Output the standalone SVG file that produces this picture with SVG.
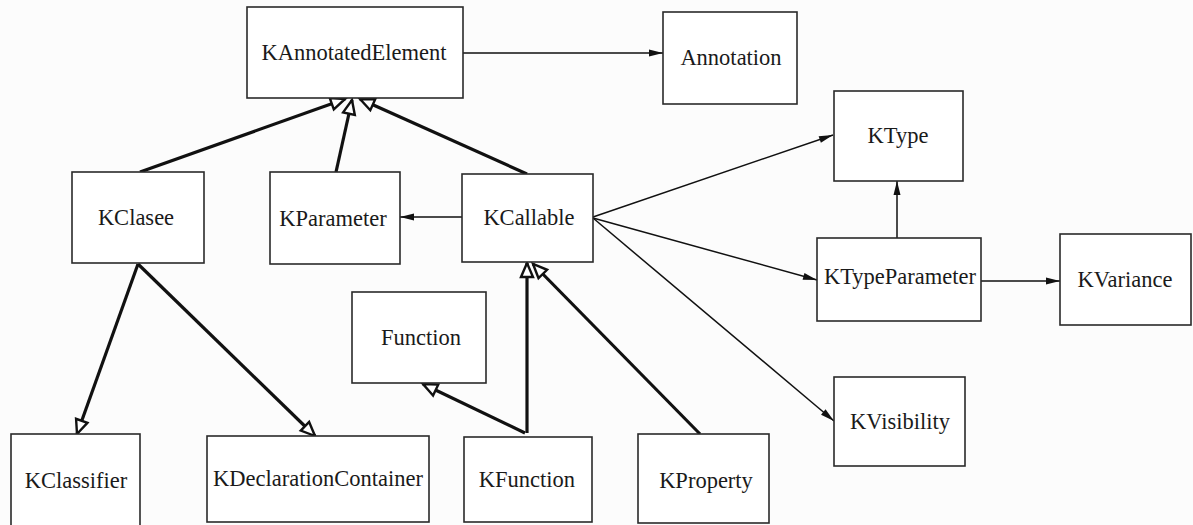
<svg xmlns="http://www.w3.org/2000/svg" width="1193" height="525" viewBox="0 0 1193 525">
<style>
.box{fill:#ffffff;stroke:#2a2a2a;stroke-width:1.6}
.lbl{font-family:"Liberation Serif","Times New Roman",serif;font-size:22.5px;fill:#1a1a1a;text-anchor:middle}
.thin{stroke:#111;stroke-width:1.5;fill:none}
.thick{stroke:#111;stroke-width:3.2;fill:none}
</style>
<defs>
<marker id="hollow" markerUnits="userSpaceOnUse" markerWidth="18" markerHeight="16" refX="15" refY="6.5" orient="auto" overflow="visible">
<path d="M1,0.5 L15,6.5 L1,12.5 z" fill="#ffffff" stroke="#111" stroke-width="2.4" stroke-linejoin="miter"/>
</marker>
<marker id="filled" markerUnits="userSpaceOnUse" markerWidth="15" markerHeight="8" refX="14" refY="3.5" orient="auto" overflow="visible">
<path d="M0,0 L14,3.5 L0,7 z" fill="#111"/>
</marker>
</defs>
<rect width="1193" height="525" fill="#fcfcfc"/>
<g id="connectors">
<path class="thin" d="M463,53 L663,53" marker-end="url(#filled)"/>
<path class="thick" d="M140,172 L345,99" marker-end="url(#hollow)"/>
<path class="thick" d="M336,172 L352,100" marker-end="url(#hollow)"/>
<path class="thick" d="M527,174 L360,99" marker-end="url(#hollow)"/>
<path class="thin" d="M462,217 L400,217" marker-end="url(#filled)"/>
<path class="thin" d="M593,217 L833,135" marker-end="url(#filled)"/>
<path class="thin" d="M593,218 L817,280" marker-end="url(#filled)"/>
<path class="thin" d="M593,218 L834,421" marker-end="url(#filled)"/>
<path class="thin" d="M897,238 L897,181" marker-end="url(#filled)"/>
<path class="thin" d="M981,281 L1060,281" marker-end="url(#filled)"/>
<path class="thick" d="M138,264 L77,434" marker-end="url(#hollow)"/>
<path class="thick" d="M138,264 L315,436" marker-end="url(#hollow)"/>
<path class="thick" d="M525,433 L423,384" marker-end="url(#hollow)"/>
<path class="thick" d="M527,433 L527,263" marker-end="url(#hollow)"/>
<path class="thick" d="M700,434 L533,264" marker-end="url(#hollow)"/>
</g>
<g id="KAnnotatedElement"><rect class="box" x="247" y="7" width="216" height="91"/><text class="lbl" x="354" y="60">KAnnotatedElement</text></g>
<g id="Annotation"><rect class="box" x="663" y="12" width="134" height="92"/><text class="lbl" x="731" y="65">Annotation</text></g>
<g id="KClasee"><rect class="box" x="72" y="172" width="132" height="91"/><text class="lbl" x="136" y="225">KClasee</text></g>
<g id="KParameter"><rect class="box" x="270" y="172" width="130" height="92"/><text class="lbl" x="333" y="226">KParameter</text></g>
<g id="KCallable"><rect class="box" x="462" y="174" width="131" height="88"/><text class="lbl" x="529" y="225">KCallable</text></g>
<g id="KType"><rect class="box" x="834" y="91" width="129" height="90"/><text class="lbl" x="898" y="143">KType</text></g>
<g id="KTypeParameter"><rect class="box" x="817" y="238" width="164" height="83"/><text class="lbl" x="900" y="284">KTypeParameter</text></g>
<g id="KVariance"><rect class="box" x="1060" y="234" width="131" height="91"/><text class="lbl" x="1125" y="287">KVariance</text></g>
<g id="KVisibility"><rect class="box" x="834" y="377" width="131" height="89"/><text class="lbl" x="900" y="429">KVisibility</text></g>
<g id="Function"><rect class="box" x="352" y="292" width="134" height="91"/><text class="lbl" x="421" y="345">Function</text></g>
<g id="KClassifier"><rect class="box" x="11" y="434" width="129" height="100"/><text class="lbl" x="76" y="488">KClassifier</text></g>
<g id="KDeclarationContainer"><rect class="box" x="207" y="436" width="222" height="86"/><text class="lbl" x="318" y="486">KDeclarationContainer</text></g>
<g id="KFunction"><rect class="box" x="464" y="437" width="128" height="85"/><text class="lbl" x="527" y="487">KFunction</text></g>
<g id="KProperty"><rect class="box" x="638" y="434" width="131" height="89"/><text class="lbl" x="706" y="488">KProperty</text></g>
</svg>
